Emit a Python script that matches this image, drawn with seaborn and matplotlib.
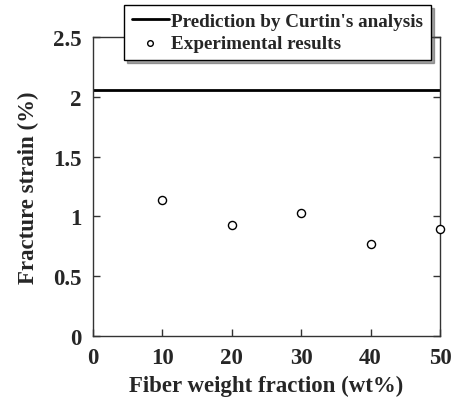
import matplotlib
matplotlib.use("Agg")
import matplotlib.pyplot as plt
import seaborn as sns
import pandas as pd

fiber_wt = [10, 20, 30, 40, 50]
fracture_strain = [1.135, 0.93, 1.03, 0.77, 0.895]
curtin_prediction = 2.06
xticks = [0, 10, 20, 30, 40, 50]
yticks = [0, 0.5, 1, 1.5, 2, 2.5]
ytick_labels = ["0", "0.5", "1", "1.5", "2", "2.5"]

sns.set_theme(style="ticks")
plt.rcParams['font.family'] = ['Liberation Serif', 'DejaVu Serif']
plt.rcParams['font.weight'] = 'bold'

fig = plt.figure(figsize=(4.55, 4.02), dpi=100)
ax = fig.add_axes([93/455, 1-337/402, (440-93)/455, (337-38)/402])

df = pd.DataFrame({"x": fiber_wt, "y": fracture_strain})
ax.axhline(curtin_prediction, color="black", lw=2, label="Prediction by Curtin's analysis")
sns.scatterplot(data=df, x="x", y="y", ax=ax, marker="o", s=34, facecolor="white",
                edgecolor="black", linewidth=1, label="Experimental results", zorder=3, clip_on=False)

ax.set_xlim(0, 50)
ax.set_ylim(0, 2.5)
ax.set_xticks(xticks)
ax.set_xticklabels([str(v) for v in xticks])
ax.set_yticks(yticks)
ax.set_yticklabels(ytick_labels)
ax.tick_params(direction="in", length=5, width=1, labelsize=16.5, pad=8,
               right=True, top=False, color="#333333")
for lab in ax.get_xticklabels() + ax.get_yticklabels():
    lab.set_fontweight("bold")
for s in ax.spines.values():
    s.set_linewidth(1)
    s.set_color("#333333")
ax.set_xlabel("Fiber weight fraction (wt%)", fontsize=16.5, fontweight="bold", labelpad=5)
ax.set_ylabel("Fracture strain (%)", fontsize=16.5, fontweight="bold", labelpad=10)

leg = ax.legend(loc="upper left", bbox_to_anchor=(124/455, 1-6/402), bbox_transform=fig.transFigure,
                frameon=True, fancybox=False, shadow=True, prop={"size": 13.8, "weight": "bold"},
                borderpad=0.4, labelspacing=0.25, handlelength=1.95, handletextpad=0.12,
                borderaxespad=0, markerscale=0.7)
leg.get_frame().set_edgecolor("black")
leg.get_frame().set_linewidth(1)
leg.set_zorder(10)

fig.savefig("out.png", dpi=100)
